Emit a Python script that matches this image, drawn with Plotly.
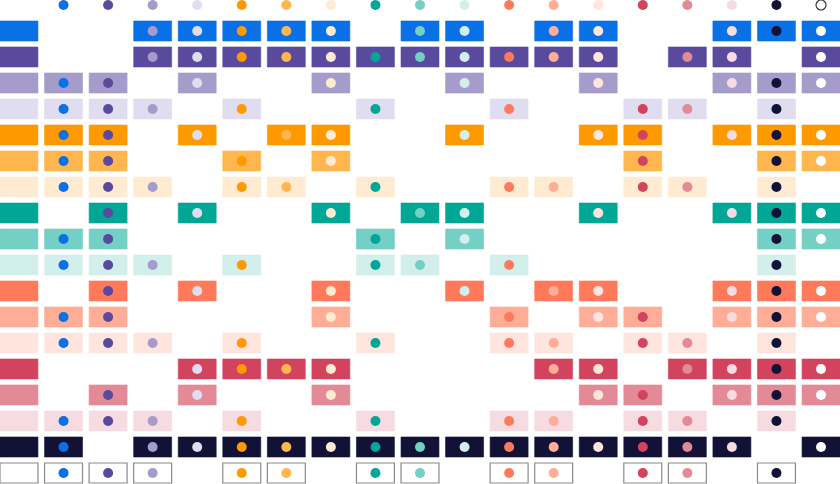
import plotly.graph_objects as go

# Palette (column / row order)
names = ["blue", "purple", "lavender", "lavender-light", "orange", "orange-light",
         "peach", "teal", "teal-light", "teal-pale", "coral", "coral-light",
         "coral-pale", "crimson", "pink", "pink-pale", "navy", "white"]
colors = ["#0a70e6", "#5a4a9d", "#a59ccb", "#e1ddf0", "#ff9900", "#ffb64f",
          "#ffebd2", "#00a796", "#74cfc4", "#d2efec", "#ff7a5a", "#ffad97",
          "#ffe5dd", "#d2445e", "#e38a96", "#f6dbe1", "#111236", "#ffffff"]

# For each background colour (row), the foreground colours (1-based column) shown
passes = [
    [3, 4, 5, 6, 7, 9, 10, 12, 13, 16, 17, 18],
    [3, 4, 5, 6, 7, 8, 9, 10, 11, 12, 13, 15, 16, 18],
    [1, 2, 4, 7, 10, 13, 16, 17, 18],
    [1, 2, 3, 5, 8, 11, 14, 15, 17],
    [1, 2, 4, 6, 7, 10, 13, 14, 16, 17, 18],
    [1, 2, 5, 7, 14, 17, 18],
    [1, 2, 3, 5, 6, 8, 11, 12, 14, 15, 17],
    [2, 4, 7, 9, 10, 13, 16, 17, 18],
    [1, 2, 8, 10, 17, 18],
    [1, 2, 3, 5, 8, 9, 11, 17],
    [2, 4, 7, 10, 12, 13, 16, 17, 18],
    [1, 2, 7, 11, 13, 14, 16, 17, 18],
    [1, 2, 3, 5, 8, 11, 12, 14, 15, 17],
    [4, 5, 6, 7, 12, 13, 15, 16, 17, 18],
    [2, 4, 7, 13, 14, 16, 17, 18],
    [1, 2, 3, 5, 8, 11, 12, 14, 15, 17],
    [1, 3, 4, 5, 6, 7, 8, 9, 10, 11, 12, 13, 14, 15, 16, 18],
    [1, 2, 3, 5, 6, 8, 9, 11, 12, 14, 15, 17],
]

HW = 0.426  # half width of a cell in column units
HH = 0.385  # half height of a cell in row units

fig = go.Figure()
shapes = []


def cell(col, row, fill):
    white = fill.lower() == "#ffffff"
    shapes.append(dict(
        type="rect", xref="x", yref="y",
        x0=col - HW, x1=col + HW, y0=row - HH, y1=row + HH,
        fillcolor=fill,
        line=dict(color="#8a8a8a" if white else fill, width=1.2 if white else 0.6),
        layer="below",
    ))


for r, row_passes in enumerate(passes, start=1):
    bg = colors[r - 1]
    cell(0, r, bg)
    for c in row_passes:
        cell(c, r, bg)

# dots: one trace per foreground colour (header + cells)
for c, (name, col) in enumerate(zip(names, colors), start=1):
    xs = [c]
    ys = [0]
    for r, row_passes in enumerate(passes, start=1):
        if c in row_passes:
            xs.append(c)
            ys.append(r)
    is_white = col.lower() == "#ffffff"
    line_w = [1.2 if is_white else 0] + [0] * (len(xs) - 1)
    fig.add_trace(go.Scatter(
        x=xs, y=ys, mode="markers", name=name,
        marker=dict(size=10, color=col,
                    line=dict(color="#333333", width=line_w)),
        hoverinfo="skip", showlegend=False,
    ))

fig.update_layout(
    width=840, height=484,
    margin=dict(l=0, r=0, t=0, b=0),
    paper_bgcolor="white", plot_bgcolor="white",
    shapes=shapes,
    xaxis=dict(range=[-HW, 18 + HW], visible=False, fixedrange=True),
    yaxis=dict(range=[18.423, -0.192], visible=False, fixedrange=True),
)

fig.write_html("out.html")
